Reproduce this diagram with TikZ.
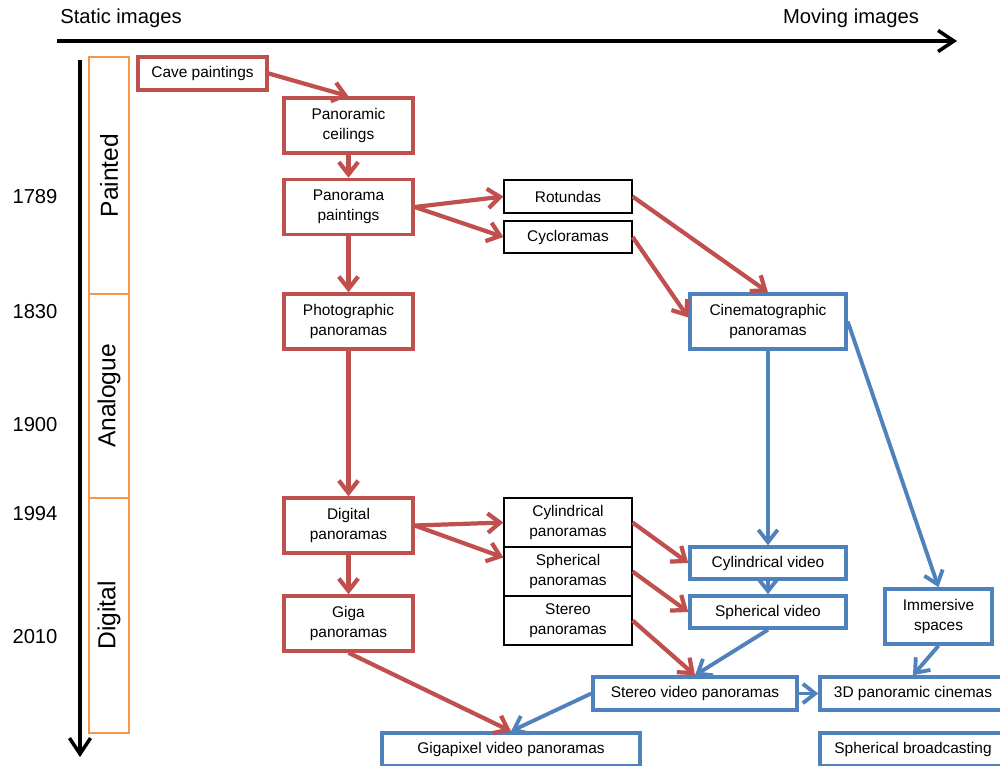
\documentclass[tikz,border=0pt]{standalone}
\usepackage{fontspec}
\setmainfont{Liberation Sans}
\usetikzlibrary{calc,arrows.meta}
\definecolor{flowred}{RGB}{192,80,77}
\definecolor{flowblue}{RGB}{79,129,189}
\definecolor{eraorange}{RGB}{247,150,70}
\newcommand\boxfont{\fontsize{8.8}{11.3}\selectfont}
\tikzset{
  box/.style={align=center,inner sep=1pt,font=\boxfont,minimum width=2.58cm,minimum height=1.1cm},
  analog/.style={box,draw=flowred,line width=2pt},
  video/.style={box,draw=flowblue,line width=2pt,minimum width=3.12cm,minimum height=0.64cm},
  plain/.style={box,draw=black,line width=0.7pt,minimum width=2.56cm,minimum height=0.98cm},
  era/.style={draw=eraorange,line width=1.2pt,rotate=90,minimum height=0.8cm,font=\fontsize{14}{16}\selectfont},
  flow/.style={draw=flowred,line width=2.4pt,-{Straight Barb[length=7pt,width=11pt]}},
  vflow/.style={draw=flowblue,line width=2.2pt,-{Straight Barb[length=7pt,width=11pt]}},
  timeline/.style={line width=2pt,-{Straight Barb[length=9pt,width=12pt]}},
  year/.style={font=\fontsize{11.5}{13}\selectfont}
}
\begin{document}
\begin{tikzpicture}[x=0.02cm,y=-0.02cm]
      \useasboundingbox (0,0) rectangle (1000,765);

      % axes
      \coordinate (hstart) at (57,41);
      \coordinate (hend) at (957,41);
      \coordinate (vstart) at (80,60);
      \coordinate (vend) at (80,757);
      \draw[timeline] (hstart) -- (hend);
      \draw[timeline] (vstart) -- (vend);
      \node[year] (static) at (121,18) {Static images};
      \node[year] (moving) at (851,18) {Moving images};

      \node[year] (y1789) at (35,197) {1789};
      \node[year] (y1830) at (35,312) {1830};
      \node[year] (y1900) at (35,425) {1900};
      \node[year] (y1994) at (35,514) {1994};
      \node[year] (y2010) at (35,637) {2010};

      \node[era,minimum width=4.74cm] (painted) at (109,175.5) {Painted};
      \node[era,minimum width=4.08cm] (analogue) at (109,396) {Analogue};
      \node[era,minimum width=4.7cm] (digitalera) at (109,615.5) {Digital};

      % static branch
      \node[analog,minimum height=0.66cm] (cave) at (202.5,73.5) {Cave paintings};
      \node[analog] (ceilings) at (348.5,125.5) {Panoramic\\ceilings};
      \node[analog] (paintings) at (348.5,207) {Panorama\\paintings};
      \node[plain,minimum height=0.66cm] (rotundas) at (568,196.5) {Rotundas};
      \node[plain,minimum height=0.64cm] (cyclo) at (568,237) {Cycloramas};
      \node[analog] (photo) at (348.5,321.5) {Photographic\\panoramas};
      \node[analog] (digital) at (348.5,525.5) {Digital\\panoramas};
      \node[analog] (giga) at (348.5,623.5) {Giga\\panoramas};
      \node[plain] (cylpan) at (568,522.5) {Cylindrical\\panoramas};
      \node[plain] (sphpan) at (568,571.5) {Spherical\\panoramas};
      \node[plain] (stepan) at (568,620.5) {Stereo\\panoramas};

      % moving branch
      \node[video,minimum height=1.1cm] (cinema) at (768,321.5) {Cinematographic\\panoramas};
      \node[video] (cylvid) at (768,563) {Cylindrical video};
      \node[video] (sphvid) at (768,612) {Spherical video};
      \node[video,minimum width=2.14cm,minimum height=1.1cm] (immersive) at (938.5,616.5) {Immersive\\spaces};
      \node[video,minimum width=4.08cm,minimum height=0.66cm] (stereovid) at (695,693.5) {Stereo video panoramas};
      \node[video,minimum width=3.72cm,minimum height=0.66cm] (cinemas3d) at (913,693.5) {3D panoramic cinemas};
      \node[video,minimum width=5.16cm,minimum height=0.66cm] (gigavid) at (511,749.5) {Gigapixel video panoramas};
      \node[video,minimum width=3.72cm,minimum height=0.66cm] (broadcast) at (913,749.5) {Spherical broadcasting};

      \draw[flow] (cave.east) -- (ceilings.north);
      \draw[flow] (ceilings) -- (paintings);
      \draw[flow] (paintings.east) -- (rotundas.west);
      \draw[flow] (paintings.east) -- (cyclo.west);
      \draw[flow] (paintings) -- (photo);
      \draw[flow] (rotundas.east) -- (cinema.north);
      \draw[flow] (cyclo.east) -- ($(cinema.west)+(0,-4)$);
      \draw[flow] (photo) -- (digital);
      \draw[flow] (digital.east) -- (cylpan.west);
      \draw[flow] (digital.east) -- ($(sphpan.west)+(0,-14)$);
      \draw[flow] (digital) -- (giga);
      \draw[flow] (cylpan.east) -- (cylvid.west);
      \draw[flow] (sphpan.east) -- (sphvid.west);
      \draw[flow] (stepan.east) -- (stereovid.north);
      \draw[flow] (giga.south) -- (gigavid.north);

      \draw[vflow] (cinema) -- (cylvid);
      \draw[vflow] (cinema.east) -- (immersive.north);
      \draw[vflow] (cylvid) -- (sphvid);
      \draw[vflow] (sphvid.south) -- (stereovid.north);
      \draw[vflow] (stereovid.west) -- (gigavid.north);
      \draw[vflow] (stereovid) -- (cinemas3d);
      \draw[vflow] (immersive.south) -- (cinemas3d.north);
    \end{tikzpicture}
\end{document}
